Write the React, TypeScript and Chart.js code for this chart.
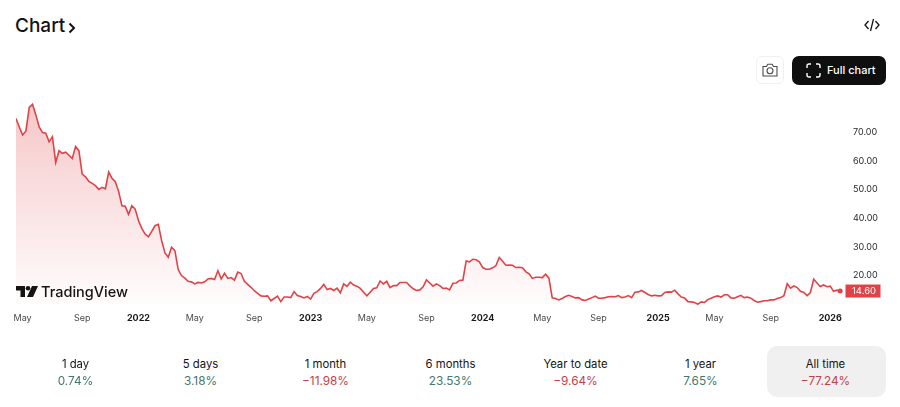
import { useEffect, useRef } from "react";
import { Chart, registerables } from "chart.js";

Chart.register(...registerables);

// weekly closes
const closes = [
  74.8, 71.9, 69.1, 70.5, 78.7, 79.8, 76.1, 71.9, 69.9, 69.7, 66.7, 68.5, 59.5, 63.6, 62.7, 63.1, 62.0, 60.9, 65.1, 63.6,
  55.4, 54.5, 52.9, 52.2, 51.4, 50.1, 50.8, 50.3, 56.1, 54.0, 52.8, 49.4, 44.4, 44.2, 41.4, 44.4, 43.2, 39.2, 36.5, 34.5,
  33.5, 35.4, 37.4, 37.9, 32.2, 27.9, 26.4, 29.9, 28.7, 22.1, 20.0, 19.1, 18.0, 17.8, 17.1, 17.6, 17.4, 17.8, 18.8, 19.0,
  18.6, 21.7, 18.8, 20.8, 19.0, 19.3, 18.4, 21.2, 20.7, 18.0, 16.9, 15.9, 14.7, 13.8, 12.9, 12.8, 12.9, 11.2, 12.0, 12.8,
  10.9, 12.5, 12.5, 12.3, 14.4, 13.0, 12.7, 12.2, 12.7, 11.8, 13.8, 14.4, 15.5, 16.9, 15.1, 15.5, 14.8, 15.6, 14.0, 17.1,
  16.2, 17.7, 16.7, 16.3, 15.5, 14.2, 12.9, 14.2, 15.5, 15.7, 18.1, 17.1, 18.0, 15.8, 16.5, 16.5, 17.6, 17.6, 17.6, 16.4,
  15.4, 14.8, 15.0, 16.1, 18.5, 17.4, 16.3, 17.1, 16.5, 15.5, 15.6, 15.0, 17.3, 17.4, 18.3, 18.4, 25.1, 24.8, 25.7, 25.5,
  24.8, 22.8, 22.2, 22.2, 22.7, 23.5, 26.3, 25.0, 23.6, 23.7, 23.6, 22.8, 22.9, 22.7, 21.4, 20.6, 19.0, 19.4, 19.4, 19.3,
  20.5, 19.1, 12.2, 12.0, 11.5, 12.0, 12.7, 13.1, 12.7, 12.2, 12.3, 11.5, 11.3, 11.8, 12.3, 12.8, 12.1, 12.1, 12.3, 12.6,
  12.7, 12.6, 13.0, 12.3, 12.5, 13.0, 12.3, 14.2, 14.3, 14.8, 14.1, 13.4, 12.9, 13.1, 12.9, 13.0, 14.1, 14.3, 14.2, 14.9,
  13.6, 12.5, 12.2, 10.9, 10.8, 10.6, 10.0, 10.8, 10.6, 11.6, 12.1, 12.6, 12.9, 12.5, 13.3, 13.3, 12.2, 12.1, 12.6, 13.1,
  12.3, 12.5, 12.1, 11.3, 10.7, 10.9, 11.2, 11.2, 11.5, 11.5, 12.0, 12.3, 13.0, 17.1, 15.6, 16.4, 15.8, 14.5, 14.1, 13.0,
  14.1, 18.7, 17.4, 16.2, 16.7, 16.1, 16.3, 14.5, 14.9, 14.6,
];
const weeks = closes.map((_, i) => i);

const xTickWeeks = [2, 20, 37, 54, 72, 89, 106, 124, 141, 159, 176, 194, 211, 228, 246];
const xTickLabels = ["May", "Sep", "2022", "May", "Sep", "2023", "May", "Sep", "2024", "May", "Sep", "2025", "May", "Sep", "2026"];
const yTicks = [20, 30, 40, 50, 60, 70];

const periods = ["1 day", "5 days", "1 month", "6 months", "Year to date", "1 year", "All time"];
const changes = ["0.74%", "3.18%", "−11.98%", "23.53%", "−9.64%", "7.65%", "−77.24%"];

const FONT = "Inter, 'Noto Sans', sans-serif";
const RED = "#e04347";
const GREEN = "#44796a";
const LOSS = "#c2414b";

// price tag on the right hand axis
const lastPriceTag = {
  id: "lastPriceTag",
  afterDraw(chart: Chart) {
    const { ctx, scales } = chart;
    const last = closes[closes.length - 1];
    const y = scales.y.getPixelForValue(last);
    ctx.save();
    ctx.fillStyle = RED;
    ctx.fillRect(845.5, y - 6.5, 35, 13);
    ctx.fillStyle = "#fff";
    ctx.font = `9.5px ${FONT}`;
    ctx.textAlign = "center";
    ctx.textBaseline = "middle";
    ctx.fillText(last.toFixed(2), 864, y + 0.5);
    ctx.restore();
  },
};

export default function App() {
  const canvasRef = useRef<HTMLCanvasElement>(null);

  useEffect(() => {
    if (!canvasRef.current) return;

    const chart = new Chart(canvasRef.current, {
      type: "line",
      data: {
        labels: weeks,
        datasets: [
          {
            data: weeks.map((w, i) => ({ x: w, y: closes[i] })),
            borderColor: RED,
            borderWidth: 1.6,
            tension: 0,
            fill: "start",
            backgroundColor: (c: any) => {
              const area = c.chart.chartArea;
              if (!area) return "transparent";
              const g = c.chart.ctx.createLinearGradient(0, area.top + 14, 0, area.bottom);
              g.addColorStop(0, "rgba(224, 67, 71, 0.3)");
              g.addColorStop(1, "rgba(224, 67, 71, 0.01)");
              return g;
            },
            pointRadius: (c: any) => (c.dataIndex === closes.length - 1 ? 2.5 : 0),
            pointBackgroundColor: RED,
            pointBorderWidth: 0,
          },
        ],
      },
      options: {
        animation: false,
        responsive: false,
        maintainAspectRatio: false,
        layout: { padding: { left: 16, right: 0, top: 0, bottom: 0 } },
        plugins: { legend: { display: false }, tooltip: { enabled: false } },
        scales: {
          x: {
            type: "linear",
            min: 0,
            max: 249.85,
            grid: { display: false },
            border: { display: false },
            afterBuildTicks: (axis: any) => {
              axis.ticks = xTickWeeks.map((value) => ({ value }));
            },
            afterFit: (axis: any) => {
              axis.height = 25;
            },
            ticks: {
              autoSkip: false,
              maxRotation: 0,
              padding: 0,
              color: (c: any) => (/^\d/.test(xTickLabels[c.index]) ? "#1a1a1a" : "#4a4a4a"),
              font: (c: any) => ({
                family: FONT,
                size: 9,
                weight: /^\d/.test(xTickLabels[c.index]) ? "bold" : "normal",
              }),
              callback: (_v: any, i: number) => xTickLabels[i],
            },
          },
          y: {
            position: "right",
            min: 9.72,
            max: 85.7,
            grid: { display: false },
            border: { display: false },
            afterBuildTicks: (axis: any) => {
              axis.ticks = yTicks.map((value) => ({ value }));
            },
            afterFit: (axis: any) => {
              axis.width = 57;
            },
            ticks: {
              padding: 2,
              color: "#2a2a2a",
              font: { family: FONT, size: 9 },
              callback: (v: any) => Number(v).toFixed(2),
            },
          },
        },
      },
      plugins: [lastPriceTag],
    } as any);

    return () => chart.destroy();
  }, []);

  return (
    <div style={{ position: "fixed", left: 0, top: 0, width: 900, height: 407, background: "#fff", fontFamily: FONT, color: "#131313", overflow: "hidden" }}>
      <div style={{ position: "absolute", left: 15, top: 13, fontSize: 19, fontWeight: 500, lineHeight: "26px" }}>Chart</div>
      <svg style={{ position: "absolute", left: 68, top: 22 }} width="8" height="12" viewBox="0 0 8 12" fill="none" stroke="#131313" strokeWidth="2">
        <path d="M1.5 1.5 L6 6 L1.5 10.5" />
      </svg>
      <svg style={{ position: "absolute", left: 864, top: 18 }} width="16" height="14" viewBox="0 0 16 14" fill="none" stroke="#131313" strokeWidth="1.3">
        <path d="M4.5 3 L1 7 L4.5 11 M11.5 3 L15 7 L11.5 11 M9.5 1 L6.5 13" />
      </svg>

      <div style={{ position: "absolute", left: 756, top: 56, width: 28, height: 28, boxSizing: "border-box", border: "1px solid #f0f0f0", borderRadius: 6 }}>
        <svg style={{ position: "absolute", left: 5, top: 6 }} width="16" height="14" viewBox="0 0 16 14" fill="none" stroke="#4a4a4a" strokeWidth="1.1">
          <path d="M1 3.5 H4.5 L5.8 1.2 H10.2 L11.5 3.5 H15 V13 H1 Z" />
          <circle cx="8" cy="7.8" r="3" />
        </svg>
      </div>
      <div style={{ position: "absolute", left: 792, top: 56, width: 94, height: 29, background: "#0f0f0f", borderRadius: 7, color: "#fff" }}>
        <svg style={{ position: "absolute", left: 14, top: 7 }} width="15" height="15" viewBox="0 0 15 15" fill="none" stroke="#fff" strokeWidth="1.4">
          <path d="M1 5 V3 Q1 1 3 1 H5 M10 1 H12 Q14 1 14 3 V5 M14 10 V12 Q14 14 12 14 H10 M5 14 H3 Q1 14 1 12 V10" />
        </svg>
        <div style={{ position: "absolute", left: 35, top: 0, lineHeight: "29px", fontSize: 11, fontWeight: 500, whiteSpace: "nowrap" }}>Full chart</div>
      </div>

      <canvas ref={canvasRef} width={900} height={250} style={{ position: "absolute", left: 0, top: 80, width: 900, height: 250 }} />

      <svg style={{ position: "absolute", left: 16, top: 285 }} width="22" height="13" viewBox="0 0 22 13" fill="#131313">
        <path d="M0 1 H9 V12 H4.5 V5.5 H0 Z" />
        <circle cx="12" cy="3.3" r="2.3" />
        <path d="M16 1 H22 L17 12 H11 Z" />
      </svg>
      <div style={{ position: "absolute", left: 41, top: 282, fontSize: 14.5, fontWeight: 500, lineHeight: "20px", whiteSpace: "nowrap" }}>TradingView</div>

      <div style={{ position: "absolute", left: 767, top: 346, width: 119, height: 51, background: "#f0f0f0", borderRadius: 10 }} />
      {periods.map((p, i) => (
        <div key={p} style={{ position: "absolute", left: 13 + i * 125, top: 356, width: 125, textAlign: "center", lineHeight: "17px" }}>
          <div style={{ fontSize: 11.3 }}>{p}</div>
          <div style={{ fontSize: 11.8, color: changes[i].startsWith("−") ? LOSS : GREEN }}>{changes[i]}</div>
        </div>
      ))}
    </div>
  );
}
